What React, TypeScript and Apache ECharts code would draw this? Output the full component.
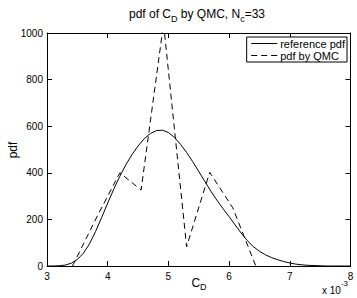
import React, { useEffect, useRef } from "react";
import * as echarts from "echarts";

const refX = [3.0,3.1,3.2,3.3,3.4,3.5,3.6,3.7,3.8,3.9,4.0,4.1,4.2,4.3,4.4,4.5,4.6,4.7,4.8,4.9,5.0,5.1,5.2,5.3,5.4,5.5,5.6,5.7,5.8,5.9,6.0,6.1,6.2,6.3,6.4,6.5,6.6,6.7,6.8,6.9,7.0,7.1,7.2,7.3,7.4,7.5,7.6,7.7,7.8,7.9,8.0];
const refY = [0,0,1,4,12,28,55,95,148,208,270,330,385,435,478,515,546,568,581,583,573,552,522,487,448,406,363,321,282,246,212,176,141,109,83,63,48,36,27,19,13,8,5,3,2,1,0,0,0,0,0];

const qmcX = [3.42,3.83,4.2,4.55,4.92,5.3,5.68,6.06,6.44];
const qmcY = [0,215,400,326,1040,83,402,250,0];

const xTicks = [3,4,5,6,7,8];
const yTicks = [0,200,400,600,800,1000];

const FONT = '"Liberation Sans", Arial, Helvetica, sans-serif';

export default function App() {
  const ref = useRef<HTMLDivElement>(null);
  useEffect(() => {
    const chart = echarts.init(ref.current!, null, { renderer: "svg" });
    const tickStyle = { show: true, inside: true, length: 5, lineStyle: { color: "#000", width: 1 } };
    const lineStyleAxis = { show: true, onZero: false, lineStyle: { color: "#000", width: 1 } };
    chart.setOption({
      animation: false,
      backgroundColor: "#fff",
      textStyle: { fontFamily: FONT },
      grid: { left: 47, right: 6.5, top: 33, bottom: 32, containLabel: false },
      legend: {
        orient: "vertical",
        right: 10,
        top: 37,
        backgroundColor: "#fff",
        borderColor: "#000",
        borderWidth: 1,
        borderRadius: 0,
        padding: [1, 2, 1, 4],
        itemGap: 1,
        itemWidth: 26,
        itemHeight: 9,
        itemStyle: { color: "rgba(0,0,0,0)", borderWidth: 0, opacity: 0 },
        lineStyle: { width: 1, color: "#000" },
        textStyle: { fontSize: 11, lineHeight: 11, color: "#000", fontFamily: FONT, padding: [0, 0, 0, -2] },
        data: ["reference pdf", "pdf by QMC"],
      },
      xAxis: [
        {
          type: "value", min: xTicks[0], max: xTicks[xTicks.length - 1], interval: 1,
          axisLine: lineStyleAxis, axisTick: tickStyle,
          axisLabel: { fontSize: 10, color: "#000", margin: 5, fontFamily: FONT, formatter: (v: number) => String(v) },
          splitLine: { show: false },
        },
        {
          type: "value", position: "top", min: 3, max: 8, interval: 1,
          axisLine: lineStyleAxis, axisTick: tickStyle, axisLabel: { show: false }, splitLine: { show: false },
        },
      ],
      yAxis: [
        {
          type: "value", min: yTicks[0], max: yTicks[yTicks.length - 1], interval: 200,
          axisLine: lineStyleAxis, axisTick: tickStyle,
          axisLabel: { fontSize: 10, color: "#000", margin: 4, fontFamily: FONT, formatter: (v: number) => String(v) },
          splitLine: { show: false },
        },
        {
          type: "value", position: "right", min: 0, max: 1000, interval: 200,
          axisLine: lineStyleAxis, axisTick: tickStyle, axisLabel: { show: false }, splitLine: { show: false },
        },
      ],
      series: [
        {
          name: "reference pdf", type: "line", symbol: "none", clip: true,
          data: refX.map((x, i) => [x, refY[i]]),
          lineStyle: { color: "#000", width: 1, type: "solid" },
          itemStyle: { color: "#000" },
        },
        {
          name: "pdf by QMC", type: "line", symbol: "none", clip: true,
          data: qmcX.map((x, i) => [x, qmcY[i]]),
          lineStyle: { color: "#000", width: 1, type: [6, 4] },
          itemStyle: { color: "#000" },
        },
      ],
      graphic: [
        {
          type: "text", x: 197, y: 14,
          style: {
            text: "{a|pdf of C}{b|D}{a| by QMC, N}{b|c}{a|=33}",
            align: "center", verticalAlign: "middle",
            rich: {
              a: { fontSize: 12, lineHeight: 18, fontFamily: FONT, fill: "#000", verticalAlign: "middle" },
              b: { fontSize: 9, lineHeight: 9, fontFamily: FONT, fill: "#000", verticalAlign: "bottom" },
            },
          },
        },
        {
          type: "text", x: 199, y: 283,
          style: {
            text: "{a|C}{b|D}",
            align: "center", verticalAlign: "middle",
            rich: {
              a: { fontSize: 12, lineHeight: 17, fontFamily: FONT, fill: "#000", verticalAlign: "middle" },
              b: { fontSize: 9, lineHeight: 9, fontFamily: FONT, fill: "#000", verticalAlign: "bottom" },
            },
          },
        },
        {
          type: "text", x: 13, y: 150, rotation: Math.PI / 2,
          style: { text: "pdf", fontSize: 12, fontFamily: FONT, fill: "#000", align: "center", verticalAlign: "middle" },
        },
        {
          type: "text", x: 322, y: 287,
          style: {
            text: "{a|x 10}{b|-3}",
            align: "left", verticalAlign: "middle",
            rich: {
              a: { fontSize: 10, lineHeight: 16, fontFamily: FONT, fill: "#000", verticalAlign: "bottom" },
              b: { fontSize: 8, lineHeight: 8, fontFamily: FONT, fill: "#000", verticalAlign: "top" },
            },
          },
        },
      ],
    });
    return () => chart.dispose();
  }, []);
  return <div ref={ref} style={{ position: "absolute", left: 0, top: 0, width: 357, height: 298 }} />;
}
